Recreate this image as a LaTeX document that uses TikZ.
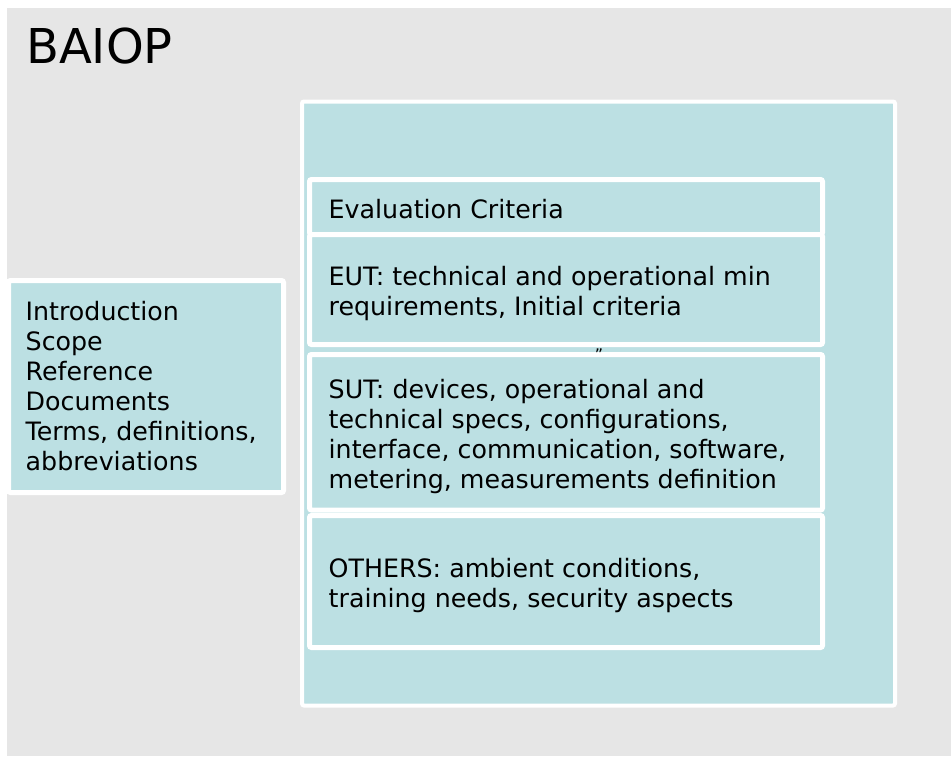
\documentclass[tikz,border=0pt]{standalone}
\usepackage{fontspec}
\setmainfont{DejaVu Sans}
\definecolor{tealbox}{RGB}{188,224,227}
\definecolor{bggray}{RGB}{230,230,230}
\begin{document}
\begin{tikzpicture}[x=1pt,y=-1pt,
  box/.style={draw=white, line width=5pt, fill=tealbox, rounded corners=2pt, anchor=north west, inner sep=0pt, outer sep=0pt},
  txt/.style={anchor=north west, inner sep=0pt, align=left, font=\fontsize{25.3}{30}\selectfont, text=black}]
\useasboundingbox (0,0) rectangle (951,756);
\fill[white] (0,0) rectangle (951,756);
\fill[bggray] (7,8) rectangle (951,756);
% boxes
\node[box, line width=4pt, minimum width=593pt, minimum height=604pt] (outer) at (302,101.5) {};
\node[box, minimum width=513pt, minimum height=55pt] (evalbox) at (309.5,179.5) {};
\node[box, minimum width=513pt, minimum height=110pt] (eutbox) at (309.5,234.5) {};
\node[box, minimum width=513pt, minimum height=155.5pt] (sutbox) at (309.5,354.5) {};
\node[box, minimum width=513pt, minimum height=132pt] (othbox) at (309.5,515.5) {};
\node[box, minimum width=275pt, minimum height=212pt] (leftbox) at (8.5,280.5) {};
% texts
\node[anchor=base west, inner sep=0pt, font=\fontsize{48}{56}\selectfont] (title) at (26,63) {BAIOP};
\node[txt] (evaltxt) at (328.5,197) {\strut Evaluation Criteria};
\node[txt] (euttxt) at (328.5,264) {\strut EUT: technical and operational min\\\strut requirements, Initial criteria};
\node[txt] (suttxt) at (328.5,377) {\strut SUT: devices, operational and\\\strut technical specs, configurations,\\\strut interface, communication, software,\\\strut metering, measurements definition};
\node[txt] (othtxt) at (328.5,556) {\strut OTHERS: ambient conditions,\\\strut training needs, security aspects};
\node[txt] (lefttxt) at (25.5,299) {\strut Introduction\\\strut Scope\\\strut Reference\\\strut Documents\\\strut Terms, definitions,\\\strut abbreviations};
\node[inner sep=0pt, font=\fontsize{16}{16}\selectfont] (mark) at (599,355) {''};
\end{tikzpicture}
\end{document}
